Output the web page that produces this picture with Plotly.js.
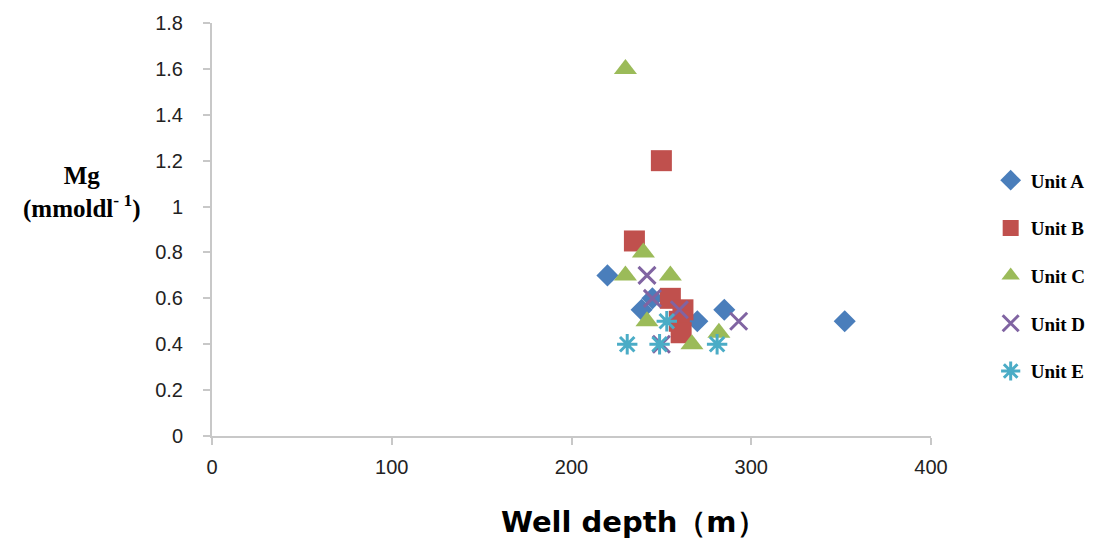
<!DOCTYPE html>
<html>
<head>
<meta charset="utf-8">
<script src="https://cdn.plot.ly/plotly-3.0.1.min.js"></script>
<style>html,body{margin:0;padding:0;background:#fff;}#chart{width:1110px;height:541px;}</style>
</head>
<body>
<div id="chart"></div>
<script>
const seriesNames = ["Unit A", "Unit B", "Unit C", "Unit D", "Unit E"];
const unitA_depth = [220, 245, 239, 270, 285, 352];
const unitA_mg    = [0.70, 0.60, 0.55, 0.50, 0.55, 0.50];
const unitB_depth = [250, 235, 255, 262, 260, 261];
const unitB_mg    = [1.20, 0.85, 0.60, 0.55, 0.50, 0.45];
const unitC_depth = [230, 240, 230, 255, 242, 282, 267];
const unitC_mg    = [1.60, 0.80, 0.70, 0.70, 0.50, 0.45, 0.40];
const unitD_depth = [242, 245, 260, 293, 250];
const unitD_mg    = [0.70, 0.60, 0.55, 0.50, 0.40];
const unitE_depth = [231, 249, 253, 281];
const unitE_mg    = [0.40, 0.40, 0.50, 0.40];
const xTicks = [0, 100, 200, 300, 400];
const yTicks = [0, 0.2, 0.4, 0.6, 0.8, 1, 1.2, 1.4, 1.6, 1.8];

const xs = [unitA_depth, unitB_depth, unitC_depth, unitD_depth, unitE_depth];
const ys = [unitA_mg, unitB_mg, unitC_mg, unitD_mg, unitE_mg];
const symbols = ["diamond", "square", "triangle-up", "x-thin-open", "asterisk-open"];
const colors = ["#4a7ebb", "#c0504d", "#9bbb59", "#8064a2", "#4bacc6"];
const sizes = [17, 21, 20, 17, 17];

const traces = seriesNames.map((n, i) => ({
  type: "scatter", mode: "markers", name: n, legendgroup: n,
  x: xs[i], y: ys[i],
  marker: {symbol: symbols[i], color: colors[i], size: sizes[i],
           line: {color: colors[i], width: (i >= 3 ? 3 : 0)}}
}));

const layout = {
  width: 1110, height: 541,
  margin: {l: 212, r: 179, t: 23, b: 105},
  paper_bgcolor: "#fff", plot_bgcolor: "#fff",
  showlegend: true,
  legend: {x: 1.083, y: 0.665, xanchor: "left", yanchor: "top",
           tracegroupgap: 20, itemwidth: 30,
           font: {family: "Liberation Serif", size: 19, color: "#000", weight: "bold"}},
  xaxis: {range: [0, 400], tickvals: xTicks, ticktext: xTicks.map(String),
          showgrid: false, zeroline: false, showline: true, linecolor: "#c8c8c8", linewidth: 2,
          ticks: "outside", ticklen: 7, tickcolor: "#c8c8c8", tickwidth: 2,
          tickfont: {family: "Liberation Sans", size: 20, color: "#222"}, ticklabelstandoff: 5},
  yaxis: {range: [0, 1.8], tickvals: yTicks, ticktext: yTicks.map(v => String(v)),
          showgrid: false, zeroline: false, showline: true, linecolor: "#c8c8c8", linewidth: 2,
          ticks: "outside", ticklen: 7, tickcolor: "#c8c8c8", tickwidth: 2,
          tickfont: {family: "Liberation Sans", size: 20, color: "#222"}, ticklabelstandoff: 16},
  annotations: [
    {xref: "paper", yref: "paper", x: -0.181, y: 0.59, xanchor: "center", yanchor: "middle",
     showarrow: false,
     text: "<b>Mg</b><br><b>(mmoldl<sup>- 1</sup>)</b>", align: "center",
     font: {family: "Liberation Serif", size: 25, color: "#000"}},
    {xref: "paper", yref: "paper", x: 0.586, y: -0.208, xanchor: "center", yanchor: "middle",
     showarrow: false,
     text: "<b>Well depth（m）</b>",
     font: {family: "DejaVu Sans", size: 29, color: "#000"}}
  ]
};

Plotly.newPlot("chart", traces, layout, {displayModeBar: false, staticPlot: true});
</script>
</body>
</html>
